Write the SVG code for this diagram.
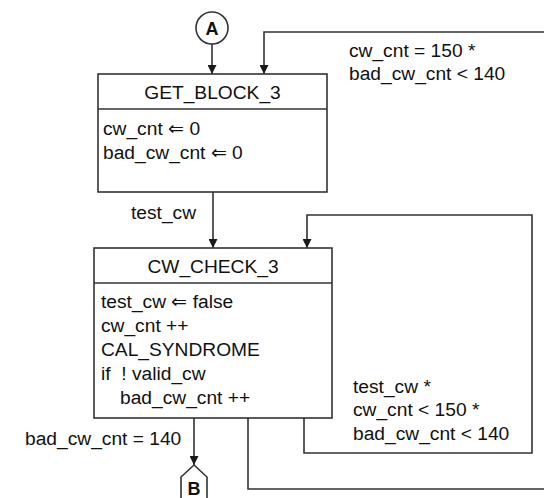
<svg xmlns="http://www.w3.org/2000/svg" width="544" height="498" viewBox="0 0 544 498">
<defs>
<marker id="arr" viewBox="0 0 10 10" refX="10" refY="5" markerWidth="9" markerHeight="9" markerUnits="userSpaceOnUse" orient="auto">
<path d="M0,0 L10,5 L0,10 z" fill="#1a1a1a"/>
</marker>
<style>
text{font-family:"Liberation Sans",Arial,sans-serif;font-size:19.2px;fill:#111}
.t{text-anchor:middle}
.b{font-weight:bold;text-anchor:middle;font-size:18px}
.box{fill:#fff;stroke:#333;stroke-width:1.6}
.ln{fill:none;stroke:#333;stroke-width:1.6}
.cn{fill:none;stroke:#333;stroke-width:1.6;marker-end:url(#arr)}
</style>
</defs>
<rect width="544" height="498" fill="#fff"/>
<g id="connectors">
<path class="cn" d="M212,44 V74"/>
<path class="cn" d="M248,418 V489 H550 V32 H264 V74"/>
<path class="cn" d="M213,192 V248"/>
<path class="cn" d="M304,418 V453 H532 V215 H307 V248"/>
<path class="cn" d="M194,418 V465"/>
<text x="131" y="219">test_cw</text>
<text x="349" y="57">cw_cnt = 150 *</text>
<text x="349" y="80">bad_cw_cnt &lt; 140</text>
<text x="353" y="393">test_cw *</text>
<text x="353" y="416">cw_cnt &lt; 150 *</text>
<text x="353" y="440">bad_cw_cnt &lt; 140</text>
<text x="25" y="445">bad_cw_cnt = 140</text>
</g>
<g id="A">
<circle class="box" cx="212" cy="28" r="16"/>
<text class="b" x="212" y="34.5">A</text>
</g>
<g id="GET_BLOCK_3">
<rect class="box" x="98" y="74" width="229" height="118"/>
<line class="ln" x1="98" y1="109" x2="327" y2="109"/>
<text class="t" x="212.5" y="99">GET_BLOCK_3</text>
<text x="103" y="135">cw_cnt ⇐ 0</text>
<text x="103" y="159">bad_cw_cnt ⇐ 0</text>
</g>
<g id="CW_CHECK_3">
<rect class="box" x="94" y="248" width="238" height="170"/>
<line class="ln" x1="94" y1="283" x2="332" y2="283"/>
<text class="t" x="213" y="273">CW_CHECK_3</text>
<text x="101" y="308">test_cw ⇐ false</text>
<text x="101" y="332">cw_cnt ++</text>
<text x="101" y="356">CAL_SYNDROME</text>
<text x="101" y="380" xml:space="preserve">if  ! valid_cw</text>
<text x="120" y="404">bad_cw_cnt ++</text>
</g>
<g id="B">
<polygon class="box" points="194,465 207,477 207,502 181,502 181,477"/>
<text class="b" x="194" y="495">B</text>
</g>
</svg>
